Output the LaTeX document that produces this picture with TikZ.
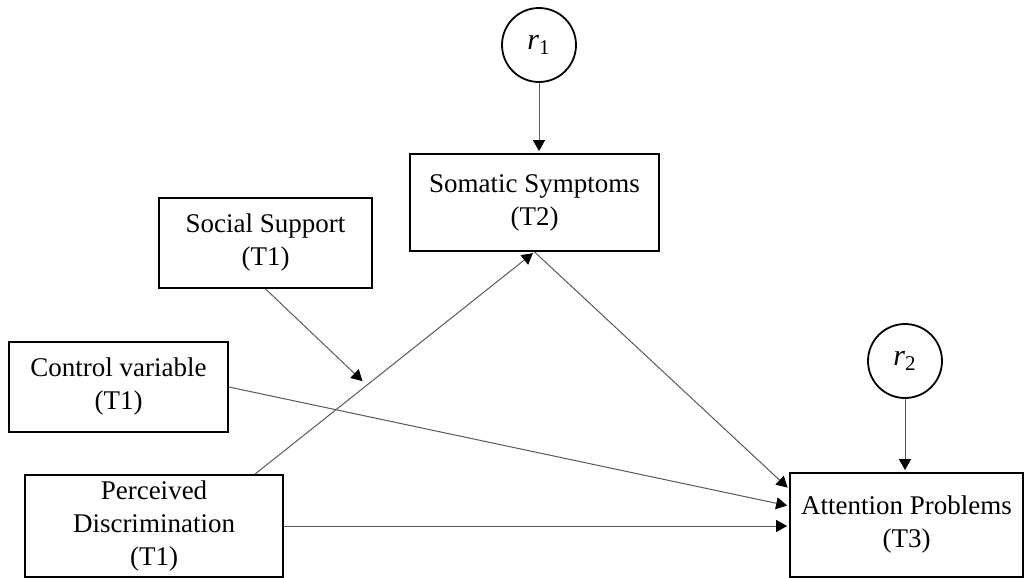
\documentclass[tikz,border=0pt]{standalone}
\usepackage{fontspec}
\setmainfont{Liberation Serif}
\usetikzlibrary{arrows.meta}
\begin{document}
\begin{tikzpicture}[
        x=0.5pt, y=-0.5pt,
        varbox/.style={draw, line width=0.9pt, align=center, inner sep=0pt,
            font=\fontsize{13.5}{16.5}\selectfont},
        resid/.style={draw, circle, line width=0.9pt, minimum size=37pt, inner sep=0pt,
            font=\fontsize{15}{18}\selectfont},
        link/.style={draw=black!65, line width=0.5pt,
            -{Triangle[length=5.5pt,width=6pt,color=black]}, shorten >=1pt}
        ]
        \useasboundingbox (0,0) rectangle (1029,578);
        % residuals
        \node [resid] (r1) at (539,45) {\textit{r}\textsubscript{1}};
        \node [resid] (r2) at (905,361) {\textit{r}\textsubscript{2}};
        % variables
        \node [varbox, minimum width=124.5pt, minimum height=48.5pt] (som) at (534.5,202.5)
            {Somatic Symptoms\\(T2)};
        \node [varbox, minimum width=106.5pt, minimum height=45pt] (ss) at (265.5,243)
            {Social Support\\(T1)};
        \node [varbox, minimum width=109.5pt, minimum height=45pt] (ctrl) at (118.5,387)
            {Control variable\\(T1)};
        \node [varbox, minimum width=129pt, minimum height=51pt] (pd) at (154,526)
            {Perceived\\Discrimination\\(T1)};
        \node [varbox, minimum width=116.5pt, minimum height=52pt] (att) at (906.5,525)
            {Attention Problems\\(T3)};
        % paths
        \draw [link] (r1) -- (r1 |- som.north);
        \draw [link] (r2) -- (r2 |- att.north);
        \draw [link] ([xshift=50.5pt]pd.north) -- coordinate[pos=0.4] (mod) (som.south);
        \draw [link, shorten >=3pt] (ss.south) -- (mod);
        \draw [link] (som.south) -- ([yshift=18pt]att.west);
        \draw [link] (ctrl.east) -- ([yshift=9.5pt]att.west);
        \draw [link] (pd.east) -- (pd.east -| att.west);
    \end{tikzpicture}
\end{document}
